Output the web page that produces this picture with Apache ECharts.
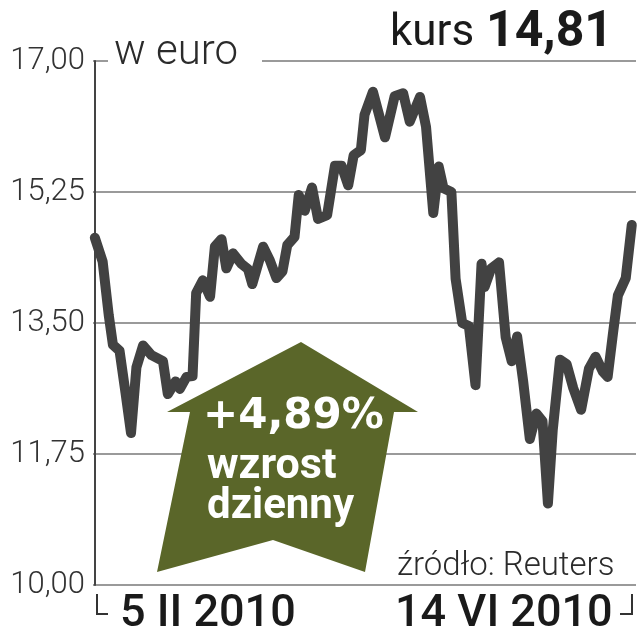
<!DOCTYPE html>
<html>
<head>
<meta charset="utf-8">
<script src="https://cdn.jsdelivr.net/npm/echarts@6/dist/echarts.min.js"></script>
<style>
html,body{margin:0;padding:0;background:#fff;}
#chart{width:638px;height:640px;}
</style>
</head>
<body>
<div id="chart"></div>
<script>
// trading-day position (0 = 5 II 2010 ... 89 = 14 VI 2010)
var days = [0,1.3,2.3,3.0,4.1,5.1,6.0,6.9,8.0,9.4,11.3,12.1,13.4,14.1,15.2,16.2,16.8,17.9,19.1,19.9,21.0,21.8,22.9,24.3,25.4,26.1,27.9,29.0,30.1,31.1,31.9,33.1,33.8,34.8,36.0,37.0,38.5,39.8,40.9,42.0,42.9,44.1,44.7,46.1,48.1,49.7,51.1,52.2,53.9,54.9,56.1,57.0,57.8,59.1,59.8,60.9,62.0,63.1,64.1,64.6,65.7,67.0,68.1,69.1,70.0,71.0,72.1,73.2,74.2,75.1,75.9,77.1,78.2,79.3,80.6,81.9,83.0,84.2,85.0,85.9,86.7,88.0,89];
// price in euro
var prices = [14.64,14.32,13.61,13.21,13.13,12.56,12.03,12.91,13.20,13.07,12.99,12.55,12.72,12.62,12.78,12.79,13.90,14.07,13.85,14.52,14.62,14.23,14.43,14.29,14.22,14.02,14.52,14.34,14.10,14.19,14.54,14.65,15.21,15.00,15.31,14.89,14.94,15.60,15.60,15.34,15.74,15.81,16.28,16.59,15.98,16.53,16.57,16.19,16.52,16.12,14.97,15.59,15.30,15.25,14.09,13.50,13.46,12.67,14.29,13.98,14.23,14.31,13.31,12.99,13.32,12.72,11.95,12.29,12.19,11.09,12.07,13.01,12.95,12.63,12.34,12.89,13.05,12.85,12.78,13.37,13.87,14.10,14.81];
var yTickLabels = ['10,00','11,75','13,50','15,25','17,00'];
var yTickValues = [10, 11.75, 13.5, 15.25, 17];
var xLabels = ['5 II 2010', '14 VI 2010'];
var lastPrice = '14,81';
var changeText = '+4,89%';

var seriesData = days.map(function(d, i){ return [d, prices[i]]; });

var chart = echarts.init(document.getElementById('chart'), null, {renderer:'canvas'});
var TXT = '#2b2b2b';
chart.setOption({
  animation:false,
  backgroundColor:'#ffffff',
  grid:{left:93, right:2, top:61, bottom:55, containLabel:false},
  xAxis:{type:'value', min:-0.3, max:89.7, show:true,
    axisLine:{show:false}, axisTick:{show:false}, axisLabel:{show:false}, splitLine:{show:false}},
  yAxis:{type:'value', min:10, max:17, interval:1.75,
    axisLine:{show:true, lineStyle:{color:'#444', width:2}},
    axisTick:{show:false},
    axisLabel:{margin:8, color:'#333', fontFamily:'Roboto', fontWeight:300, fontSize:31,
      formatter:function(v){
        for (var i=0;i<yTickValues.length;i++){ if (Math.abs(yTickValues[i]-v)<1e-6) return yTickLabels[i]; }
        return '';
      }},
    splitLine:{show:true, lineStyle:{color:'#9a9a9a', width:2}}
  },
  series:[{
    type:'line', data:seriesData, showSymbol:false, symbol:'none',
    lineStyle:{color:'#424242', width:10, join:'round', cap:'round'},
    z:3
  }],
  graphic:[
    {type:'rect', z:5, shape:{x:108, y:57, width:154, height:9}, style:{fill:'#fff'}},
    {type:'text', z:6, style:{text:'w euro', x:114, y:53.5, fill:TXT, font:'300 42px Roboto', textVerticalAlign:'middle'}},
    {type:'text', z:6, style:{text:'kurs', x:390, y:34, fill:'#1a1a1a', font:'400 44px Roboto', textVerticalAlign:'middle'}},
    {type:'text', z:6, style:{text:lastPrice, x:486, y:33.4, fill:'#1a1a1a', font:'700 50px Roboto', textVerticalAlign:'middle'}},
    {type:'polygon', z:10, shape:{points:[[301,342],[418,412],[394,412],[365,572],[273,540],[157,572],[190,412],[167,412]]},
      style:{fill:'#5a6629'}},
    {type:'text', z:11, style:{text:changeText, x:203, y:416.8, fill:'#fff', font:'700 42px "DejaVu Sans"', textVerticalAlign:'middle'}},
    {type:'text', z:11, style:{text:'wzrost', x:207, y:467.5, fill:'#fff', font:'700 43px Roboto', textVerticalAlign:'middle'}},
    {type:'text', z:11, style:{text:'dzienny', x:207, y:507.5, fill:'#fff', font:'700 42px Roboto', textVerticalAlign:'middle'}},
    {type:'text', z:6, style:{text:'źródło: Reuters', x:397, y:567, fill:TXT, font:'300 33px Roboto', textVerticalAlign:'middle'}},
    {type:'polyline', z:6, shape:{points:[[97,594],[97,614],[108,614]]}, style:{stroke:'#333', lineWidth:2, fill:null}},
    {type:'polyline', z:6, shape:{points:[[620,614],[632,614],[632,594]]}, style:{stroke:'#333', lineWidth:2, fill:null}},
    {type:'text', z:6, style:{text:xLabels[0], x:120, y:614.5, fill:'#1a1a1a', font:'500 45px Roboto', textVerticalAlign:'middle'}},
    {type:'text', z:6, style:{text:xLabels[1], x:395, y:614.5, fill:'#1a1a1a', font:'500 45px Roboto', textVerticalAlign:'middle'}}
  ]
});
</script>
</body>
</html>
